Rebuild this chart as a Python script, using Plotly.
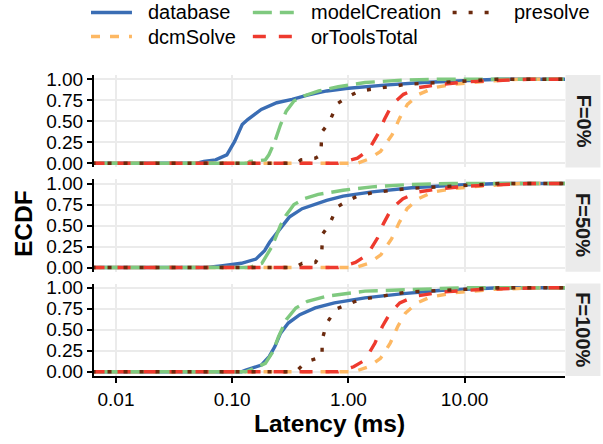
import plotly.graph_objects as go
from plotly.subplots import make_subplots

# ECDF curves read as (latency in ms, cumulative fraction) knots, one list per
# series and failure-rate facet.
FACETS = ["F=0%", "F=50%", "F=100%"]
SERIES = ["database", "dcmSolve", "modelCreation", "orToolsTotal", "presolve"]

DATABASE_F0 = [(0.050, 0.0), (0.057, 0.02), (0.072, 0.04), (0.090, 0.10), (0.105, 0.26),
               (0.122, 0.46), (0.136, 0.52), (0.178, 0.64), (0.242, 0.72), (0.328, 0.76),
               (0.445, 0.81), (0.652, 0.86), (0.95, 0.89), (2.04, 0.93), (4.36, 0.96),
               (13.7, 0.99), (20.0, 1.0)]
DCMSOLVE_F0 = [(1.20, 0.0), (1.50, 0.05), (1.89, 0.14), (2.38, 0.34), (2.77, 0.54),
               (3.22, 0.70), (4.05, 0.82), (5.49, 0.90), (8.03, 0.94), (13.7, 0.97),
               (29.2, 1.0)]
MODELCREATION_F0 = [(0.135, 0.0), (0.142, 0.02), (0.193, 0.04), (0.207, 0.10), (0.233, 0.26),
                    (0.261, 0.46), (0.292, 0.62), (0.340, 0.74), (0.412, 0.80), (0.556, 0.86),
                    (0.818, 0.91), (1.39, 0.96), (2.99, 0.99), (6.35, 1.0)]
ORTOOLS_F0 = [(0.818, 0.0), (1.197, 0.06), (1.50, 0.16), (1.82, 0.36), (2.04, 0.52),
              (2.38, 0.70), (2.98, 0.82), (4.03, 0.90), (6.35, 0.94), (10.8, 0.97),
              (20.0, 0.99), (36.0, 1.0)]
PRESOLVE_F0 = [(0.36, 0.0), (0.39, 0.04), (0.52, 0.06), (0.58, 0.10), (0.59, 0.37),
               (0.68, 0.48), (0.805, 0.71), (0.99, 0.79), (1.20, 0.85), (1.56, 0.88),
               (3.22, 0.94), (8.0, 0.97), (19.3, 1.0)]

DATABASE_F50 = [(0.060, 0.0), (0.080, 0.02), (0.12, 0.05), (0.16, 0.10), (0.19, 0.20),
                (0.21, 0.30), (0.24, 0.40), (0.27, 0.50), (0.31, 0.60), (0.40, 0.70),
                (0.50, 0.75), (0.65, 0.80), (0.90, 0.85), (1.6, 0.90), (3.5, 0.95),
                (8.0, 0.98), (20.0, 1.0)]
DCMSOLVE_F50 = [(1.15, 0.0), (1.50, 0.05), (1.90, 0.15), (2.35, 0.34), (2.75, 0.54),
                (3.20, 0.70), (4.00, 0.82), (5.40, 0.90), (8.0, 0.94), (14.0, 0.97),
                (30.0, 1.0)]
MODELCREATION_F50 = [(0.14, 0.0), (0.18, 0.05), (0.19, 0.10), (0.22, 0.25), (0.26, 0.50),
                     (0.29, 0.62), (0.34, 0.75), (0.42, 0.82), (0.55, 0.87), (0.90, 0.92),
                     (1.6, 0.96), (3.5, 0.99), (8.0, 1.0)]
ORTOOLS_F50 = [(0.82, 0.0), (1.15, 0.06), (1.45, 0.15), (1.78, 0.35), (2.00, 0.52),
               (2.35, 0.70), (2.95, 0.82), (4.00, 0.90), (6.3, 0.94), (11.0, 0.97),
               (36.0, 1.0)]
PRESOLVE_F50 = [(0.35, 0.0), (0.40, 0.05), (0.52, 0.06), (0.59, 0.18), (0.60, 0.40),
                (0.68, 0.50), (0.80, 0.72), (1.0, 0.80), (1.2, 0.85), (1.6, 0.89),
                (3.2, 0.94), (8.0, 0.97), (20.0, 1.0)]

DATABASE_F100 = [(0.12, 0.0), (0.131, 0.02), (0.178, 0.08), (0.208, 0.18), (0.233, 0.30),
                 (0.261, 0.46), (0.304, 0.58), (0.382, 0.68), (0.518, 0.76), (0.758, 0.82),
                 (1.39, 0.88), (2.98, 0.93), (6.39, 0.97), (20.0, 1.0)]
DCMSOLVE_F100 = [(1.11, 0.0), (1.50, 0.06), (1.89, 0.16), (2.29, 0.34), (2.66, 0.54),
                 (3.10, 0.70), (3.90, 0.82), (5.09, 0.89), (8.03, 0.94), (17.2, 0.98),
                 (43.0, 1.0)]
MODELCREATION_F100 = [(0.13, 0.0), (0.142, 0.02), (0.193, 0.10), (0.224, 0.24), (0.251, 0.42),
                      (0.292, 0.62), (0.353, 0.76), (0.445, 0.84), (0.652, 0.90), (1.39, 0.96),
                      (4.36, 0.99), (9.35, 1.0)]
ORTOOLS_F100 = [(0.818, 0.0), (1.11, 0.06), (1.39, 0.14), (1.69, 0.34), (1.96, 0.54),
                (2.29, 0.70), (2.77, 0.82), (3.75, 0.90), (6.39, 0.95), (13.7, 0.98),
                (43.0, 1.0)]
PRESOLVE_F100 = [(0.353, 0.0), (0.397, 0.07), (0.48, 0.14), (0.594, 0.18), (0.594, 0.38),
                 (0.652, 0.58), (0.787, 0.75), (0.99, 0.80), (1.197, 0.85), (1.56, 0.88),
                 (3.22, 0.95), (9.35, 0.98), (20.0, 1.0)]

CURVES = {
    "F=0%": [DATABASE_F0, DCMSOLVE_F0, MODELCREATION_F0, ORTOOLS_F0, PRESOLVE_F0],
    "F=50%": [DATABASE_F50, DCMSOLVE_F50, MODELCREATION_F50, ORTOOLS_F50, PRESOLVE_F50],
    "F=100%": [DATABASE_F100, DCMSOLVE_F100, MODELCREATION_F100, ORTOOLS_F100, PRESOLVE_F100],
}

# ECDF padding beyond the observed range (drawn out to the panel edges)
PAD_LOW, PAD_HIGH = 1e-4, 1e4

X_TICKS = [0.01, 0.1, 1, 10]
X_TICK_TEXT = ["0.01", "0.10", "1.00", "10.00"]
Y_TICKS = [0, 0.25, 0.5, 0.75, 1.0]
Y_TICK_TEXT = ["0.00", "0.25", "0.50", "0.75", "1.00"]

COLORS = {
    "database": "#3a6db4",
    "dcmSolve": "#fdb863",
    "modelCreation": "#7fc97f",
    "orToolsTotal": "#ee3a2e",
    "presolve": "#6b2a0e",
}
DASHES = {
    "database": "solid",
    "dcmSolve": "9px,10px",
    "modelCreation": "19px,8px",
    "orToolsTotal": "13px,13px",
    "presolve": "4px,12px",
}
LINE_W = 3.4

FONT = "Liberation Sans, Arial, sans-serif"
W, H = 603, 444
ML, MR, MT, MB = 94, 37.5, 75, 68
PW, PH = W - ML - MR, H - MT - MB
PANEL_H, GAP = 92.4, 11.9


def fx(px):
    return (px - ML) / PW


def fy(py):
    return 1 - (py - MT) / PH


fig = make_subplots(rows=3, cols=1, shared_xaxes=True)

for row, facet in enumerate(FACETS, start=1):
    for name, pts in zip(SERIES, CURVES[facet]):
        xs = [PAD_LOW] + [p[0] for p in pts] + [PAD_HIGH]
        ys = [0.0] + [p[1] for p in pts] + [1.0]
        fig.add_trace(
            go.Scatter(
                x=xs, y=ys, mode="lines", name=name, showlegend=False,
                line=dict(color=COLORS[name], width=LINE_W, dash=DASHES[name]),
                hoverinfo="skip",
            ),
            row=row, col=1,
        )

# panel domains, top to bottom
domains = []
for i in range(3):
    top = MT + i * (PANEL_H + GAP)
    domains.append([fy(top + PANEL_H), fy(top)])

grid = "#ebebeb"
for i in range(3):
    axn = "" if i == 0 else str(i + 1)
    bottom = i == 2
    fig.layout["yaxis" + axn].update(
        domain=domains[i], range=[-0.05, 1.05], tickvals=Y_TICKS, ticktext=Y_TICK_TEXT,
        showline=True, linecolor="black", linewidth=2, ticks="outside", ticklen=5,
        tickwidth=2, tickcolor="black", zeroline=False, showgrid=True,
        gridcolor=grid, gridwidth=1.6,
        tickfont=dict(family=FONT, size=19, color="black"),
    )
    fig.layout["xaxis" + axn].update(
        type="log", range=[-2.189, 1.864], tickvals=X_TICKS, ticktext=X_TICK_TEXT,
        showgrid=True, gridcolor=grid, gridwidth=1.6, zeroline=False,
        showline=bottom, linecolor="black", linewidth=2,
        ticks="outside" if bottom else "", ticklen=5, tickwidth=2, tickcolor="black",
        showticklabels=bottom,
        tickfont=dict(family=FONT, size=19, color="black"),
    )

shapes = []
annotations = []

# facet strips on the right
for i, facet in enumerate(FACETS):
    top = MT + i * (PANEL_H + GAP)
    shapes.append(dict(type="rect", xref="paper", yref="paper",
                       x0=fx(566), x1=fx(601), y0=fy(top + PANEL_H), y1=fy(top),
                       fillcolor="#ebebeb", line=dict(width=0), layer="below"))
    annotations.append(dict(text="<b>%s</b>" % facet, xref="paper", yref="paper",
                            x=fx(584), y=fy(top + PANEL_H / 2), textangle=90,
                            showarrow=False, xanchor="center", yanchor="middle",
                            font=dict(family=FONT, size=20, color="#1a1a1a")))

# axis titles
annotations.append(dict(text="<b>Latency (ms)</b>", xref="paper", yref="paper",
                        x=fx(330), y=fy(423), showarrow=False,
                        xanchor="center", yanchor="middle",
                        font=dict(family=FONT, size=24.5, color="black")))
annotations.append(dict(text="<b>ECDF</b>", xref="paper", yref="paper",
                        x=fx(23), y=fy(224), showarrow=False, textangle=-90,
                        xanchor="center", yanchor="middle",
                        font=dict(family=FONT, size=24.5, color="black")))

# legend: two rows, filled column by column
legend_slots = {
    "database": (91, 146, 12.5),
    "dcmSolve": (91, 146, 36.5),
    "modelCreation": (253, 309, 12.5),
    "orToolsTotal": (253, 309, 36.5),
    "presolve": (453, 512, 12.5),
}
for name in SERIES:
    kx, tx, ky = legend_slots[name]
    shapes.append(dict(type="line", xref="paper", yref="paper",
                       x0=fx(kx), x1=fx(kx + 41), y0=fy(ky), y1=fy(ky),
                       line=dict(color=COLORS[name], width=LINE_W, dash=DASHES[name])))
    annotations.append(dict(text=name, xref="paper", yref="paper", x=fx(tx), y=fy(ky),
                            showarrow=False, xanchor="left", yanchor="middle",
                            font=dict(family=FONT, size=20, color="black")))

fig.update_layout(
    width=W, height=H,
    margin=dict(l=ML, r=MR, t=MT, b=MB, pad=0),
    paper_bgcolor="white", plot_bgcolor="white",
    shapes=shapes, annotations=annotations,
    showlegend=False,
    font=dict(family=FONT),
)

fig.write_html("out.html")
